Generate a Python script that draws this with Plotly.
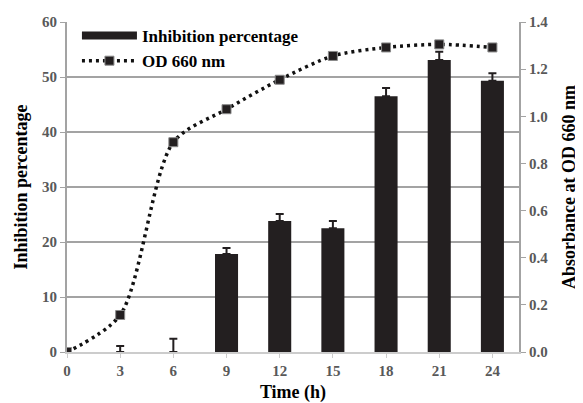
import plotly.graph_objects as go

time_h = [0, 3, 6, 9, 12, 15, 18, 21, 24]
inhibition = [0, 0, 0, 17.8, 23.8, 22.5, 46.5, 53.1, 49.3]
inhibition_err = [0, 1.1, 2.4, 1.1, 1.3, 1.3, 1.5, 1.5, 1.4]
od660 = [0.0, 0.157, 0.89, 1.03, 1.155, 1.256, 1.292, 1.305, 1.292]

FONT = "Liberation Serif"
GRAY = "#a3a3a3"
TICK = "#595959"
BAR = "#231f20"

fig = go.Figure()
fig.add_trace(go.Bar(
    x=time_h, y=inhibition, width=1.3, name="<b>Inhibition percentage</b>", showlegend=False,
    marker=dict(color=BAR, line=dict(width=0)),
    error_y=dict(type="data", array=inhibition_err, arrayminus=[0]*len(time_h),
                 symmetric=False, color=BAR, thickness=2, width=4),
))
# legend-only entry giving the wide bar swatch
fig.add_trace(go.Scatter(
    x=[None], y=[None], mode="lines", name="<b>Inhibition percentage</b>",
    line=dict(color=BAR, width=8),
))
fig.add_trace(go.Scatter(
    x=time_h, y=od660, yaxis="y2", name="<b>OD 660 nm</b>", mode="lines+markers",
    line=dict(color="#111111", width=3.5, dash="3px,4px", shape="spline", smoothing=0.8),
    marker=dict(symbol="square", size=9, color=BAR, line=dict(color="#8a8a8a", width=1)),
))

tick_font = dict(family=FONT, size=15, color=TICK)
title_font = dict(family=FONT, size=18, color="black")

fig.update_layout(
    width=575, height=395,
    margin=dict(l=59, r=64, t=14, b=51, autoexpand=False),
    paper_bgcolor="white", plot_bgcolor="white",
    font=dict(family=FONT, size=15, color="black"),
    showlegend=True,
    legend=dict(x=0.022, y=1.012, xanchor="left", yanchor="top", bgcolor="rgba(0,0,0,0)",
                font=dict(family=FONT, size=17, color="black"), tracegroupgap=0,
                itemwidth=55),
    xaxis=dict(range=[0, 25.5], tickvals=time_h, ticktext=[f"<b>{t}</b>" for t in time_h],
               showgrid=False, zeroline=False, showline=True, linecolor="#cccccc", linewidth=2,
               ticks="outside", ticklen=4, tickcolor="#cccccc",
               tickfont=tick_font, automargin=False,
               title=dict(text="<b>Time (h)</b>", font=title_font, standoff=10)),
    yaxis=dict(range=[0, 60], tickvals=[0, 10, 20, 30, 40, 50, 60],
               ticktext=[f"<b>{v}</b>" for v in [0, 10, 20, 30, 40, 50, 60]],
               showgrid=True, gridcolor=GRAY, gridwidth=1.5, zeroline=False,
               showline=True, linecolor=GRAY, linewidth=2,
               ticks="outside", ticklen=5, tickcolor=GRAY,
               tickfont=tick_font, automargin=False,
               title=dict(text="<b>Inhibition percentage</b>", font=title_font, standoff=10)),
    yaxis2=dict(range=[0, 1.4], overlaying="y", side="right",
                tickvals=[0, 0.2, 0.4, 0.6, 0.8, 1.0, 1.2, 1.4],
                ticktext=[f"<b>{v:.1f}</b>" for v in [0, 0.2, 0.4, 0.6, 0.8, 1.0, 1.2, 1.4]],
                showgrid=False, zeroline=False, showline=True, linecolor=GRAY, linewidth=2,
                ticks="outside", ticklen=5, tickcolor=GRAY,
                tickfont=tick_font, automargin=False,
                title=dict(text="<b>Absorbance at OD 660 nm</b>",
                           font=dict(family=FONT, size=18, color="black"), standoff=15)),
)

fig.write_html("out.html")
